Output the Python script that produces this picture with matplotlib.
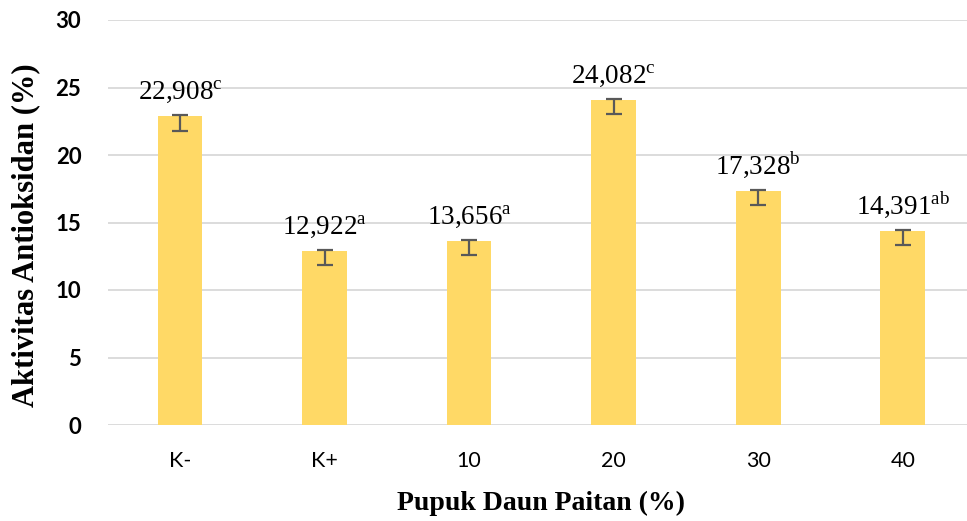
import matplotlib
matplotlib.use("Agg")
import matplotlib.pyplot as plt
import numpy as np

categories = ["K-", "K+", "10", "20", "30", "40"]
values = [22.908, 12.922, 13.656, 24.082, 17.328, 14.391]
value_texts = ["22,908", "12,922", "13,656", "24,082", "17,328", "14,391"]
letters = ["c", "a", "a", "c", "b", "ab"]
err_low = [1.10, 1.07, 1.05, 1.07, 1.04, 1.05]
err_high = [0.05, 0.05, 0.07, 0.05, 0.06, 0.06]
yticks = [0, 5, 10, 15, 20, 25, 30]

plt.rcParams['mathtext.fontset'] = 'custom'
plt.rcParams['mathtext.rm'] = 'Liberation Serif'

W, H = 967, 521
fig = plt.figure(figsize=(W/100, H/100), dpi=100)
left, right = 107.7, 975.0
top, bottom = 20.0, 425.0
ax = fig.add_axes([left/W, (H-bottom)/H, (right-left)/W, (bottom-top)/H])

x = np.arange(len(categories))
ax.bar(x, values, width=0.31, color="#FFD966", zorder=2)
ax.errorbar(x, values, yerr=[err_low, err_high], fmt="none", ecolor="#595959",
            elinewidth=1.6, capsize=6, capthick=1.6, zorder=3)

for xi, v, t, l in zip(x, values, value_texts, letters):
    ax.text(xi, v + 1.25, t + r"$^{\mathrm{" + l + r"}}$", ha="center", va="baseline",
            fontsize=19.5, family="Liberation Serif", color="black", zorder=4)

ax.set_xlim(-0.5, len(categories) - 0.5)
ax.set_ylim(0, 30)
ax.set_yticks(yticks)
ax.set_yticklabels([str(t) for t in yticks], fontsize=16, fontweight="bold", family="Lato")
ax.set_xticks(x)
ax.set_xticklabels(categories, fontsize=15.5, family="Lato")
ax.tick_params(axis="both", length=0)
ax.tick_params(axis="y", pad=19)
ax.tick_params(axis="x", pad=19)
for s in ax.spines.values():
    s.set_visible(False)
ax.grid(axis="y", color="#D9D9D9", linewidth=1.3, zorder=0)
ax.set_axisbelow(True)

fig.text(541/W, 1 - 503/H, "Pupuk Daun Paitan (%)", ha="center", va="center",
         fontsize=20, fontweight="bold", family="Liberation Serif")
fig.text(26/W, 1 - 235/H, "Aktivitas Antioksidan (%)", ha="center", va="center",
         rotation=90, fontsize=22, fontweight="bold", family="Liberation Serif")

fig.savefig("out.png", dpi=100)
